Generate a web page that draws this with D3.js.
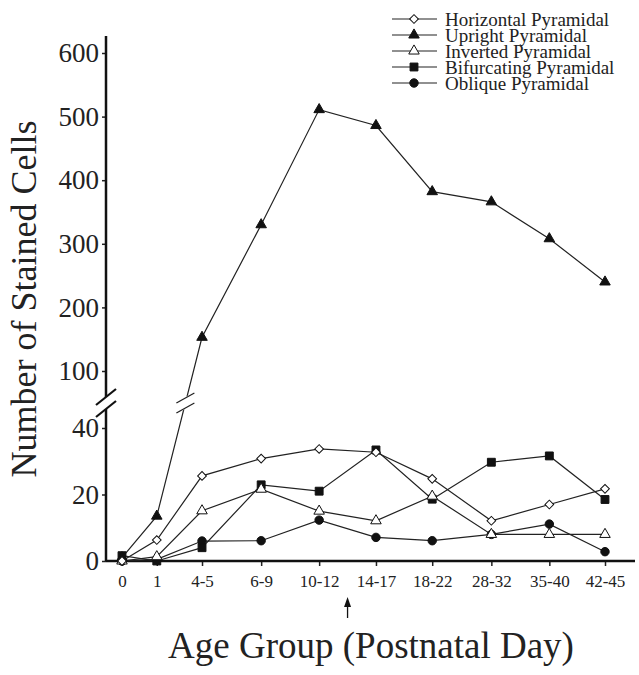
<!DOCTYPE html>
<html>
<head>
<meta charset="utf-8">
<script src="https://cdn.jsdelivr.net/npm/d3@7"></script>
<style>
  body { margin: 0; background: #fff; }
  text { font-family: 'Liberation Serif', 'Times New Roman', serif; fill: #222; }
</style>
</head>
<body>
<div id="chart"></div>
<script>
// Age groups and where they sit along the x axis (in "slot" units)
const ages = ['0', '1', '4-5', '6-9', '10-12', '14-17', '18-22', '28-32', '35-40', '42-45']
const slots = [0, 0.6, 1.38, 2.4, 3.4, 4.38, 5.35, 6.37, 7.37, 8.33]

// Stained cell counts per cell type
const horizontal = [0, 6.3, 25.6, 30.8, 33.7, 32.7, 24.7, 12.1, 17, 21.7]
const upright = [1, 13.5, 153, 330, 511, 486, 382, 366, 308, 240]
const inverted = [0, 1.3, 15.1, 21.6, 15, 12.1, 19.5, 8, 8, 8]
const bifurcating = [1.6, 0, 4, 22.9, 21, 33.4, 18.6, 29.7, 31.6, 18.5]
const oblique = [0, 0.5, 6, 6.1, 12.3, 7.1, 6.1, 8, 11.1, 2.8]

const lowTicks = [0, 20, 40]
const highTicks = [100, 200, 300, 400, 500, 600]

const names = ['Horizontal Pyramidal', 'Upright Pyramidal', 'Inverted Pyramidal', 'Bifurcating Pyramidal', 'Oblique Pyramidal']
const seriesData = [horizontal, upright, inverted, bifurcating, oblique]

const width = 639, height = 675
const axisX = 106, breakY = 403

const xscale = d3.scaleLinear().domain([0, 8.33]).range([122, 605])
const yLow = d3.scaleLinear().domain([0, 40]).range([561, 428])
const yHigh = d3.scaleLinear().domain([100, 600]).range([371, 53])
const yscale = v => v > 40 ? yHigh(v) : yLow(v)

// marker styles, one per series
const markers = [
  { type: d3.symbolSquare, size: 38, rotate: 45, fill: '#fff' },
  { type: d3.symbolTriangle, size: 48, rotate: 0, fill: '#111' },
  { type: d3.symbolTriangle, size: 48, rotate: 0, fill: '#fff' },
  { type: d3.symbolSquare, size: 62, rotate: 0, fill: '#111' },
  { type: d3.symbolCircle, size: 56, rotate: 0, fill: '#111' }
]

let svg = d3.select('#chart')
  .append('svg')
  .attr('width', width)
  .attr('height', height)

// y axes (two segments with a break)
let lowAxis = svg.append('g')
  .attr('transform', `translate(${axisX},0)`)
  .call(d3.axisLeft(yLow).tickValues(lowTicks).tickSize(4).tickPadding(3))
let highAxis = svg.append('g')
  .attr('transform', `translate(${axisX},0)`)
  .call(d3.axisLeft(yHigh).tickValues(highTicks).tickSize(4).tickPadding(3))
;[lowAxis, highAxis].forEach(a => {
  a.select('.domain').remove()
  a.selectAll('.tick line').attr('stroke', '#222').attr('stroke-width', 1.5)
  a.selectAll('.tick text').style('font-size', '27px')
  a.attr('font-family', null).attr('font-size', null)
})

svg.append('line')
  .attr('x1', axisX).attr('x2', axisX)
  .attr('y1', 36).attr('y2', breakY - 6)
  .attr('stroke', '#111').attr('stroke-width', 2.5)
svg.append('line')
  .attr('x1', axisX).attr('x2', axisX)
  .attr('y1', breakY + 6).attr('y2', yLow(0))
  .attr('stroke', '#111').attr('stroke-width', 2.5)
;[-6, 6].forEach(off => {
  svg.append('line')
    .attr('x1', axisX - 10).attr('y1', breakY + off + 8)
    .attr('x2', axisX + 10).attr('y2', breakY + off - 8)
    .attr('stroke', '#111').attr('stroke-width', 2.2)
})

// x axis
let xAxis = svg.append('g')
  .attr('transform', `translate(0,${yLow(0)})`)
  .call(d3.axisBottom(xscale).tickValues(slots).tickFormat((d, i) => ages[i]).tickSize(5).tickPadding(9))
xAxis.select('.domain').remove()
xAxis.attr('font-family', null).attr('font-size', null)
xAxis.selectAll('.tick line').attr('stroke', '#222').attr('stroke-width', 1.5)
xAxis.selectAll('.tick text').style('font-size', '17px')
svg.append('line')
  .attr('x1', axisX).attr('x2', 635)
  .attr('y1', yLow(0)).attr('y2', yLow(0))
  .attr('stroke', '#111').attr('stroke-width', 2.5)

// series lines, drawn back to front
const order = [4, 3, 2, 1, 0]
const line = d3.line().x((d, i) => xscale(slots[i])).y(d => yscale(d))

order.forEach(s => {
  svg.append('path')
    .datum(seriesData[s])
    .attr('d', line)
    .attr('fill', 'none')
    .attr('stroke', '#222')
    .attr('stroke-width', 1.2)
})

// break marks where a line crosses the gap
seriesData.forEach(vals => {
  for (let i = 1; i < vals.length; i++) {
    if (vals[i - 1] <= 40 && vals[i] > 40) {
      let x0 = xscale(slots[i - 1]), y0 = yscale(vals[i - 1])
      let x1 = xscale(slots[i]), y1 = yscale(vals[i])
      let cx = x0 + (x1 - x0) * (y0 - breakY) / (y0 - y1)
      svg.append('path')
        .attr('d', `M${cx - 9},${breakY - 1}L${cx + 9},${breakY - 11}L${cx + 9},${breakY + 1}L${cx - 9},${breakY + 11}Z`)
        .attr('fill', '#fff')
      ;[-5, 5].forEach(off => {
        svg.append('line')
          .attr('x1', cx - 9).attr('y1', breakY + off + 5)
          .attr('x2', cx + 9).attr('y2', breakY + off - 5)
          .attr('stroke', '#222').attr('stroke-width', 1.3)
      })
    }
  }
})

// markers
order.forEach(s => {
  let m = markers[s]
  svg.append('g').selectAll('path')
    .data(seriesData[s])
    .enter()
    .append('path')
    .attr('d', d3.symbol().type(m.type).size(m.size))
    .attr('transform', (d, i) => `translate(${xscale(slots[i])},${yscale(d)}) rotate(${m.rotate})`)
    .attr('fill', m.fill)
    .attr('stroke', '#111')
    .attr('stroke-width', 1)
})

// legend
let legend = svg.append('g').attr('transform', 'translate(392,19)')
names.forEach((name, i) => {
  let m = markers[i]
  let row = legend.append('g').attr('transform', `translate(0,${i * 16})`)
  row.append('line').attr('x1', 0).attr('x2', 45).attr('stroke', '#222').attr('stroke-width', 1.2)
  row.append('path')
    .attr('d', d3.symbol().type(m.type).size(m.size))
    .attr('transform', `translate(22,0) rotate(${m.rotate})`)
    .attr('fill', m.fill).attr('stroke', '#111').attr('stroke-width', 1)
  row.append('text')
    .attr('x', 53).attr('dy', '0.35em')
    .style('font-size', '19px')
    .text(name)
})

// arrow marking the age group of interest
let ax = xscale((slots[4] + slots[5]) / 2)
svg.append('line')
  .attr('x1', ax).attr('x2', ax)
  .attr('y1', 618).attr('y2', 604)
  .attr('stroke', '#111').attr('stroke-width', 1.3)
svg.append('path')
  .attr('d', `M${ax},597L${ax - 3.5},607L${ax + 3.5},607Z`)
  .attr('fill', '#111')

// axis titles
svg.append('text')
  .attr('transform', `translate(36,299) rotate(-90)`)
  .attr('text-anchor', 'middle')
  .style('font-size', '36px')
  .text('Number of Stained Cells')

svg.append('text')
  .attr('x', 371).attr('y', 658)
  .attr('text-anchor', 'middle')
  .style('font-size', '37px')
  .text('Age Group (Postnatal Day)')
</script>
</body>
</html>
